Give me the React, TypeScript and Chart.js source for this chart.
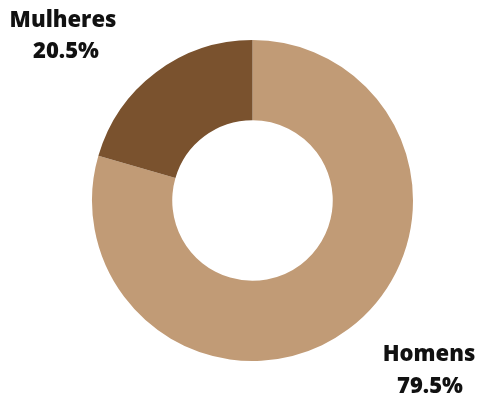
import React, { useEffect, useRef } from "react";
import { Chart, registerables } from "chart.js";

Chart.register(...registerables);

const categories = ["Homens", "Mulheres"];
const values = [79.5, 20.5];
const colors = ["#C19B76", "#7A522E"];
const valueLabels = ["79.5%", "20.5%"];

const labelPlugin = {
  id: "cornerLabels",
  afterDraw(chart: any) {
    const ctx = chart.ctx;
    ctx.save();
    ctx.fillStyle = "#111111";
    ctx.font = "800 22px 'Open Sans'";
    ctx.textAlign = "center";
    ctx.textBaseline = "alphabetic";
    // Mulheres (top-left)
    ctx.fillText(categories[1], 63, 27);
    ctx.fillText(valueLabels[1], 66, 58);
    // Homens (bottom-right)
    ctx.fillText(categories[0], 429, 361);
    ctx.fillText(valueLabels[0], 430, 393);
    ctx.restore();
  },
};

export default function App() {
  const ref = useRef<HTMLCanvasElement | null>(null);
  useEffect(() => {
    document.body.style.margin = "0";
    const chart = new Chart(ref.current as HTMLCanvasElement, {
      type: "doughnut",
      data: {
        labels: categories,
        datasets: [
          {
            data: values,
            backgroundColor: colors,
            borderWidth: 0,
          },
        ],
      },
      options: {
        animation: false,
        responsive: false,
        cutout: "50%",
        layout: { padding: { left: 92, right: 65, top: 40, bottom: 35 } },
        plugins: {
          legend: { display: false },
          tooltip: { enabled: false },
        },
      },
      plugins: [labelPlugin],
    });
    return () => chart.destroy();
  }, []);
  return (
    <div style={{ width: 478, height: 396, background: "#fff" }}>
      <canvas ref={ref} width={478} height={396} />
    </div>
  );
}
